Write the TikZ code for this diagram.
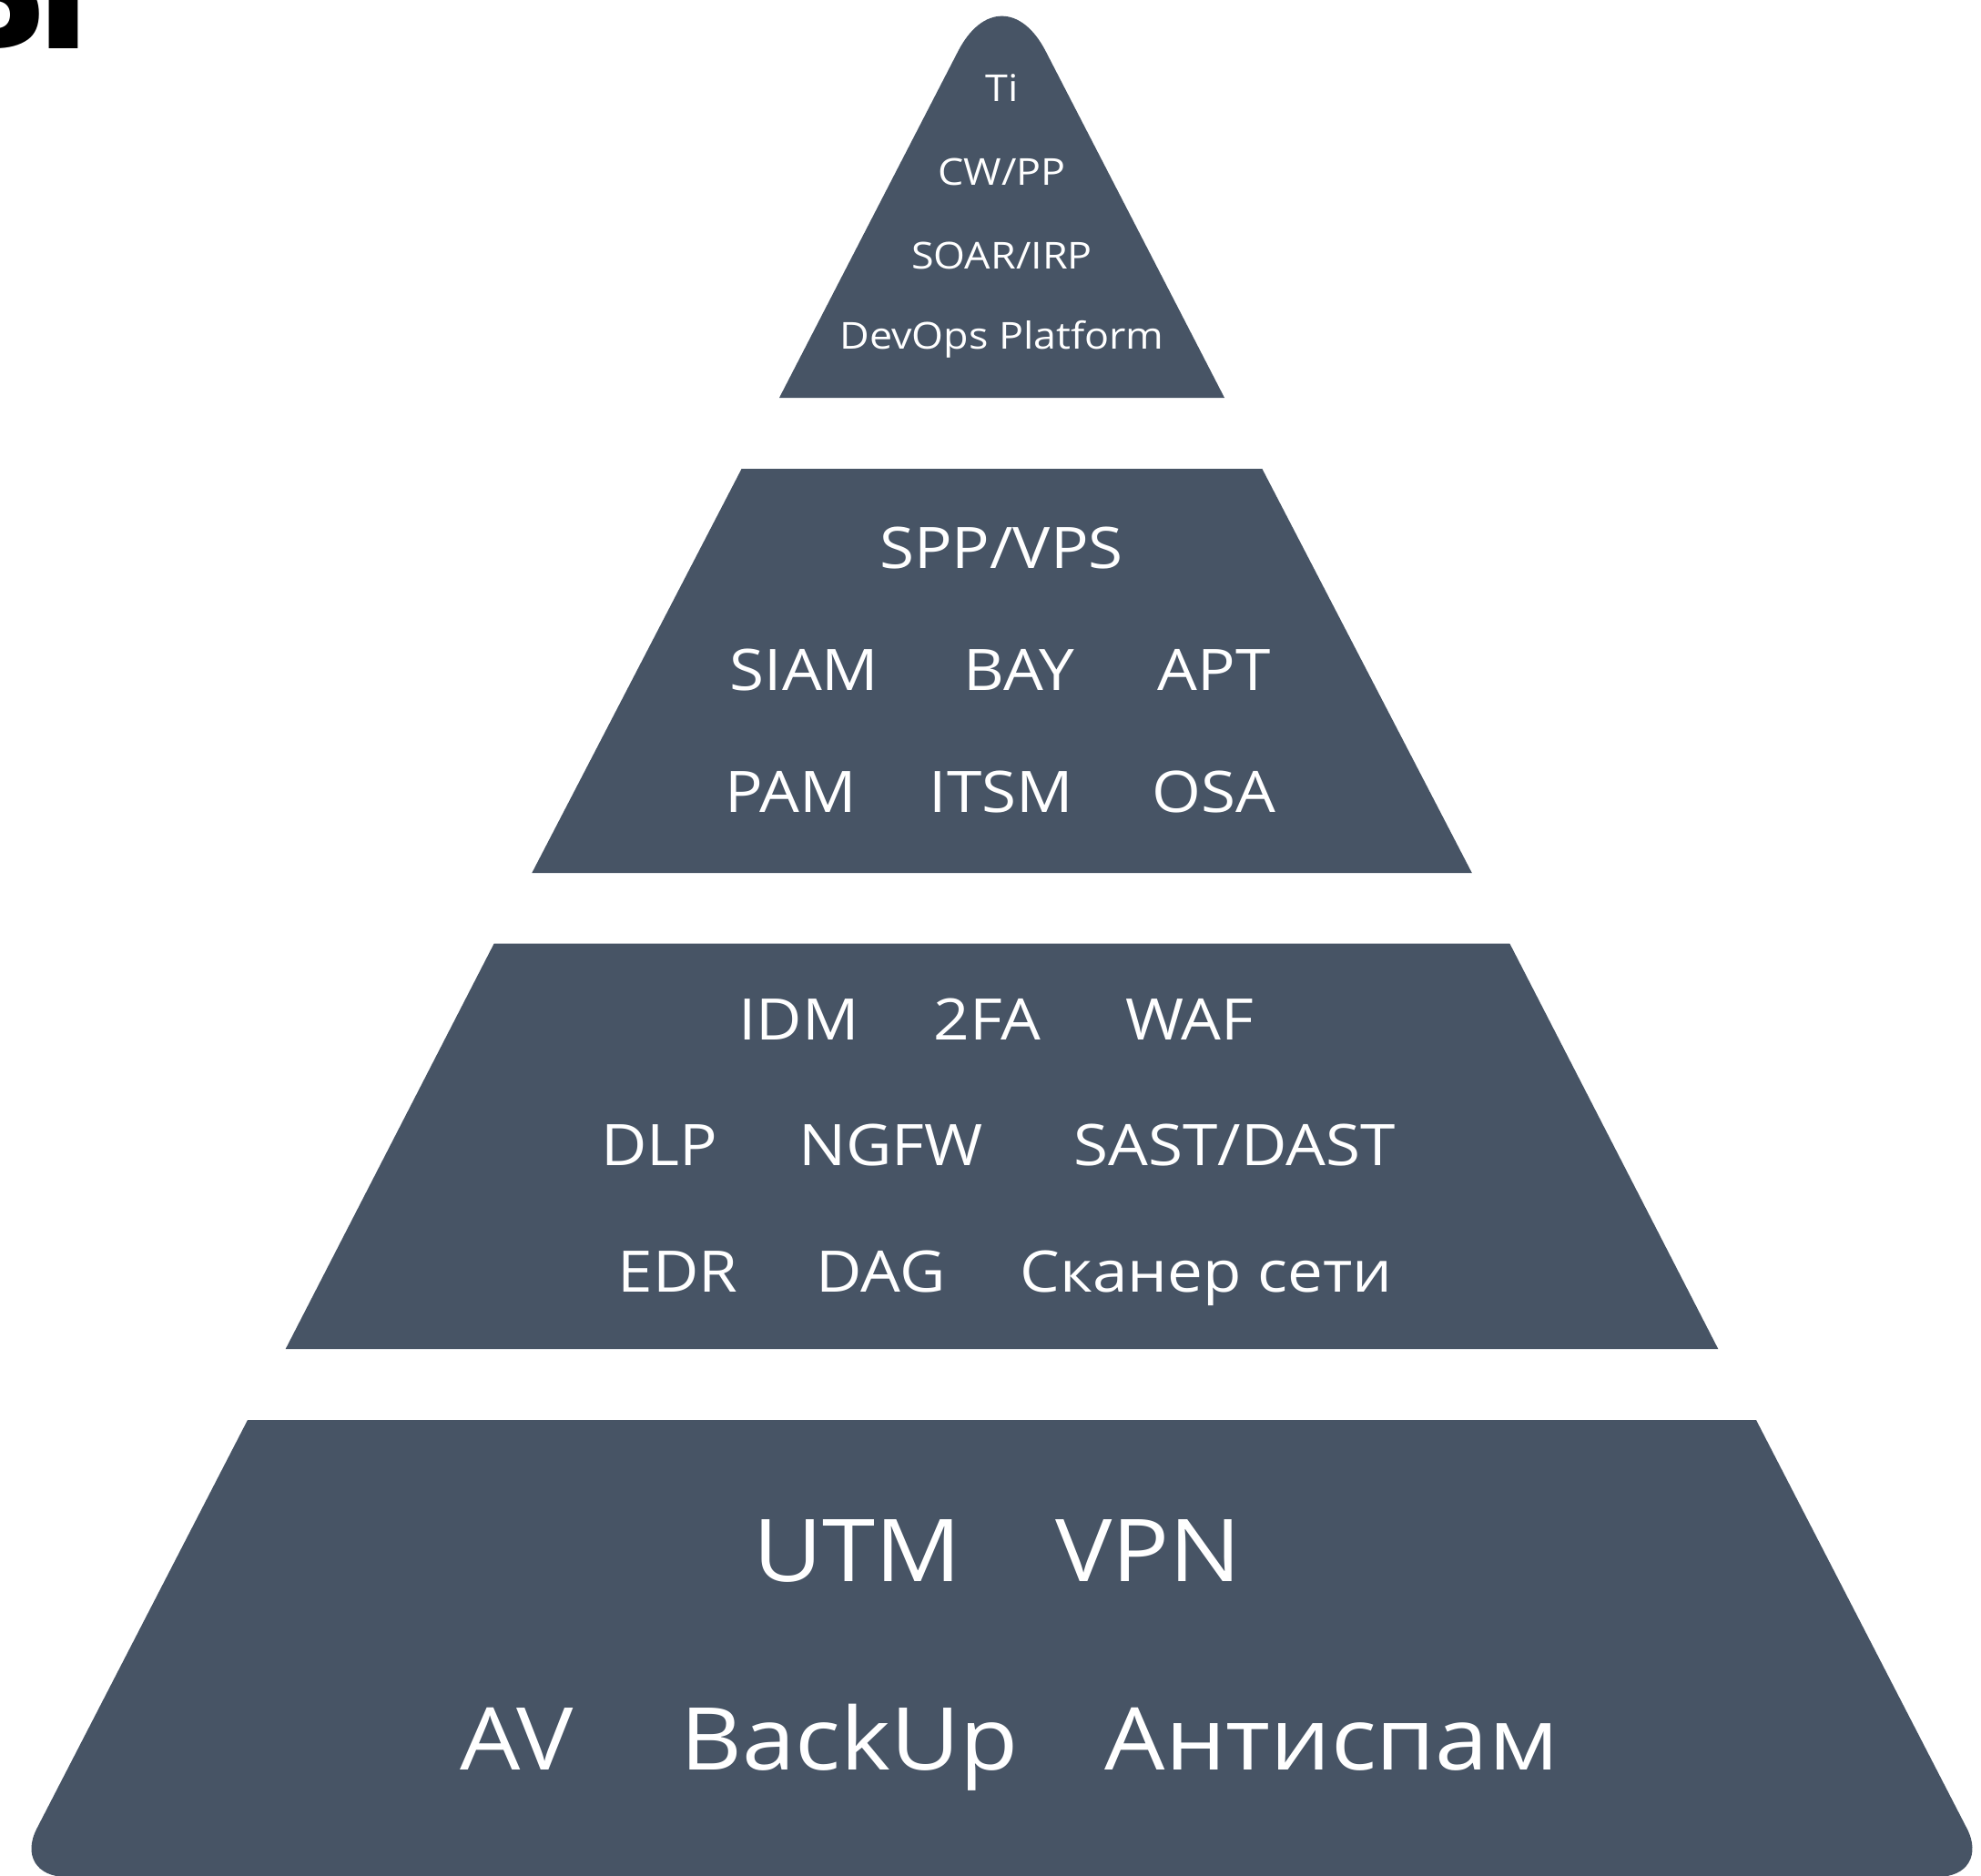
\documentclass[tikz,border=0pt]{standalone}
\usepackage{fontspec}
\setmainfont{Open Sans}[FakeStretch=1.1]
\newfontfamily\headfont{DejaVu Sans Bold}
\definecolor{slate}{RGB}{71,84,101}

\begin{document}
\begin{tikzpicture}[
    tier/.style={fill=slate},
    lbl/.style={text=white, anchor=base, inner sep=0pt},
    small/.style={lbl, font=\fontsize{11.6}{14}\selectfont},
    mid/.style={lbl, font=\fontsize{17.9}{21}\selectfont},
    big/.style={lbl, font=\fontsize{27.1}{32}\selectfont}
]
    \useasboundingbox (0,0) rectangle (21.76,-20.61);
    \clip (0,0) rectangle (21.76,-20.61);

    % Heading (cut off by the frame)
    \node[anchor=base east, inner sep=0pt, font=\headfont\fontsize{48}{48}\selectfont] (heading) at (1.02,-0.53) {Ы};

    % Level 1
    \fill[tier] (8.56,-4.37) [rounded corners=1.05cm] -- (11.005,0.37) [sharp corners] -- (13.45,-4.37) -- cycle;
    \node[small] (ti) at (11.005,-1.12) {Ti};
    \node[small] (cwpp) at (11.005,-2.03) {CW/PP};
    \node[small] (soar) at (11.005,-2.95) {SOAR/IRP};
    \node[small] (devops) at (11.005,-3.83) {DevOps Platform};

    % Level 2
    \fill[tier] (8.146,-5.15) -- (13.864,-5.15) -- (16.168,-9.59) -- (5.843,-9.59) -- cycle;
    \node[mid] (spp) at (11.00,-6.24) {SPP/VPS};
    \node[mid] (siam) at (8.835,-7.58) {SIAM};
    \node[mid] (bay) at (11.195,-7.58) {BAY};
    \node[mid] (apt) at (13.335,-7.58) {APT};
    \node[mid] (pam) at (8.685,-8.92) {PAM};
    \node[mid] (itsm) at (11.00,-8.92) {ITSM};
    \node[mid] (osa) at (13.33,-8.92) {OSA};

    % Level 3
    \fill[tier] (5.426,-10.367) -- (16.584,-10.367) -- (18.874,-14.822) -- (3.136,-14.822) -- cycle;
    \node[mid] (idm) at (8.775,-11.42) {IDM};
    \node[mid] (twofa) at (10.845,-11.42) {2FA};
    \node[mid] (waf) at (13.07,-11.42) {WAF};
    \node[mid] (dlp) at (7.245,-12.80) {DLP};
    \node[mid] (ngfw) at (9.785,-12.80) {NGFW};
    \node[mid] (sast) at (13.56,-12.80) {SAST/DAST};
    \node[mid] (edr) at (7.445,-14.19) {EDR};
    \node[mid] (dag) at (9.675,-14.19) {DAG};
    \node[mid] (scan) at (13.25,-14.19) {Сканер сети};

    % Level 4
    \fill[tier] (2.72,-15.60) -- (19.29,-15.60) [rounded corners=0.6cm] -- (21.88,-20.62) -- (0.13,-20.62) [sharp corners] -- cycle;
    \node[big] (utm) at (9.415,-17.37) {UTM};
    \node[big] (vpn) at (12.615,-17.37) {VPN};
    \node[big] (av) at (5.675,-19.44) {AV};
    \node[big] (backup) at (9.33,-19.44) {BackUp};
    \node[big] (antispam) at (14.63,-19.44) {Антиспам};
\end{tikzpicture}
\end{document}
